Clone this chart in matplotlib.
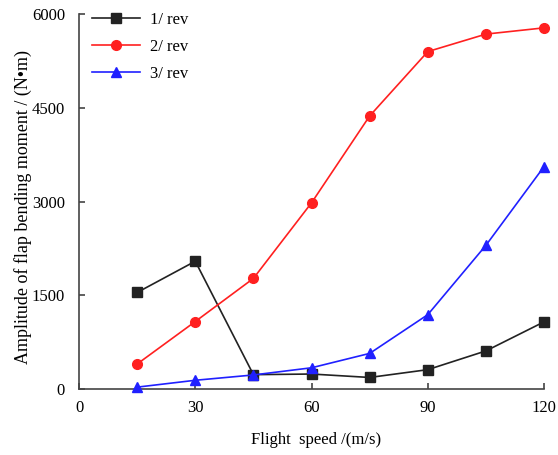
import matplotlib
matplotlib.use('Agg')
import matplotlib.pyplot as plt

plt.rcParams['font.family'] = ['Liberation Serif', 'DejaVu Serif']

# flight speed (m/s)
speed = [15, 30, 45, 60, 75, 90, 105, 120]

# amplitude of flap bending moment (N*m)
rev1 = [1545, 2045, 230, 240, 185, 310, 610, 1075]
rev2 = [400, 1080, 1770, 2980, 4370, 5400, 5680, 5780]
rev3 = [30, 140, 225, 340, 570, 1190, 2300, 3560]

xticks = [0, 30, 60, 90, 120]
yticks = [0, 1500, 3000, 4500, 6000]

fig = plt.figure(figsize=(5.58, 4.55), dpi=100)
ax = fig.add_axes([0.1416, 0.145, 0.8334, 0.824])

ax.plot(speed, rev1, color='#222222', marker='s', markersize=6.5, lw=1.2, label='1/ rev', clip_on=False, zorder=3)
ax.plot(speed, rev2, color='#ff2020', marker='o', markersize=7, lw=1.2, label='2/ rev', clip_on=False, zorder=3)
ax.plot(speed, rev3, color='#2020ff', marker='^', markersize=7, lw=1.2, label='3/ rev', clip_on=False, zorder=3)

ax.set_xlim(0, 120)
ax.set_ylim(0, 6000)
ax.set_xticks(xticks)
ax.set_yticks(yticks)

for s in ['top', 'right']:
    ax.spines[s].set_visible(False)
for s in ['left', 'bottom']:
    ax.spines[s].set_color('#444444')
    ax.spines[s].set_linewidth(1.2)

ax.tick_params(direction='in', length=4, width=1.2, color='#444444', labelsize=12, pad=10)
ax.tick_params(axis='x', pad=8)

ax.set_xlabel('Flight  speed /(m/s)', fontsize=12, labelpad=11)
ax.set_ylabel('Amplitude of flap bending moment / (N\u2022m)', fontsize=13)
ax.xaxis.set_label_coords(0.51, -0.115)
ax.yaxis.set_label_coords(-0.102, 0.485)

ax.legend(loc='upper left', frameon=False, fontsize=12, handlelength=2.9, handletextpad=0.6,
          bbox_to_anchor=(-0.005, 1.045), labelspacing=0.65)

fig.savefig('out.png', dpi=100)
